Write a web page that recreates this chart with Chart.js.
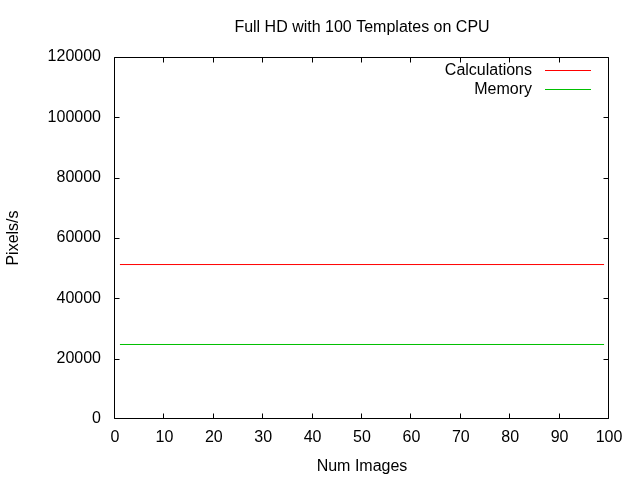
<!DOCTYPE html>
<html>
<head>
<meta charset="utf-8">
<script src="https://cdn.jsdelivr.net/npm/chart.js@4"></script>
<style>
html,body{margin:0;padding:0;background:#fff;}
canvas{display:block;}
</style>
</head>
<body>
<canvas id="c" width="640" height="480"></canvas>
<script>
const titleText = "Full HD with 100 Templates on CPU";
const xTitle = "Num Images";
const yTitle = "Pixels/s";
const seriesNames = ["Calculations", "Memory"];
const seriesColors = ["#ff0000", "#00c000"];
const numImages = [1, 99];
const calculations = [51200, 51200];
const memory = [24700, 24700];
const xTicks = [0, 10, 20, 30, 40, 50, 60, 70, 80, 90, 100];
const yTicks = [0, 20000, 40000, 60000, 80000, 100000, 120000];

const FONT = "Liberation Sans, Arial, sans-serif";
const FS = 16;

const gnuplotFrame = {
  id: 'gnuplotFrame',
  afterDraw(chart) {
    const ctx = chart.ctx;
    const a = chart.chartArea;
    const xs = chart.scales.x, ys = chart.scales.y;
    ctx.save();
    ctx.strokeStyle = '#000';
    ctx.lineWidth = 1;
    const L = Math.round(a.left) - 0.5, R = Math.round(a.right) - 0.5;
    const T = Math.round(a.top) + 0.5, B = Math.round(a.bottom) - 0.5;
    ctx.beginPath();
    ctx.rect(L, T, R - L, B - T);
    ctx.stroke();
    const tl = 5;
    ctx.beginPath();
    xTicks.forEach(v => {
      let px = Math.round(xs.getPixelForValue(v)) - 0.5;
      px = Math.min(Math.max(px, L), R);
      ctx.moveTo(px, B); ctx.lineTo(px, B - tl);
      ctx.moveTo(px, T); ctx.lineTo(px, T + tl);
    });
    yTicks.forEach(v => {
      let py = Math.round(ys.getPixelForValue(v)) + 0.5;
      py = Math.min(Math.max(py, T), B);
      ctx.moveTo(L, py); ctx.lineTo(L + tl, py);
      ctx.moveTo(R, py); ctx.lineTo(R - tl, py);
    });
    ctx.stroke();

    // titles
    ctx.fillStyle = '#000';
    ctx.font = FS + 'px ' + FONT;
    ctx.textAlign = 'center';
    ctx.textBaseline = 'middle';
    ctx.fillText(titleText, (a.left + a.right) / 2, 28);
    ctx.fillText(xTitle, (a.left + a.right) / 2, 467);
    ctx.save();
    ctx.translate(14, (a.top + a.bottom) / 2);
    ctx.rotate(-Math.PI / 2);
    ctx.fillText(yTitle, 0, 0);
    ctx.restore();

    // legend
    ctx.textAlign = 'right';
    chart.data.datasets.forEach((ds, i) => {
      const y = 70 + i * 19;
      ctx.fillStyle = '#000';
      ctx.fillText(ds.label, 532, y + 1);
      ctx.strokeStyle = ds.borderColor;
      ctx.beginPath();
      ctx.moveTo(545, y + 0.5);
      ctx.lineTo(591, y + 0.5);
      ctx.stroke();
    });
    ctx.restore();
  }
};

new Chart(document.getElementById('c'), {
  type: 'line',
  data: {
    datasets: [
      { label: seriesNames[0], data: numImages.map((x, i) => ({x, y: calculations[i]})),
        borderColor: seriesColors[0], borderWidth: 1, pointRadius: 0, fill: false, tension: 0 },
      { label: seriesNames[1], data: numImages.map((x, i) => ({x, y: memory[i]})),
        borderColor: seriesColors[1], borderWidth: 1, pointRadius: 0, fill: false, tension: 0 }
    ]
  },
  options: {
    responsive: false,
    animation: false,
    devicePixelRatio: 1,
    layout: { padding: { left: 0, right: 31, top: 57, bottom: 0 } },
    plugins: { legend: { display: false }, title: { display: false }, tooltip: { enabled: false } },
    scales: {
      x: {
        type: 'linear', min: 0, max: 100,
        afterBuildTicks: s => { s.ticks = xTicks.map(v => ({value: v})); },
        afterFit: s => { s.height = 61; },
        grid: { display: false, drawTicks: false },
        border: { display: false },
        ticks: { color: '#000', font: { family: FONT, size: FS }, padding: 9, maxRotation: 0, autoSkip: false }
      },
      y: {
        type: 'linear', min: 0, max: 120000,
        afterBuildTicks: s => { s.ticks = yTicks.map(v => ({value: v})); },
        afterFit: s => { s.width = 115; },
        grid: { display: false, drawTicks: false },
        border: { display: false },
        ticks: { color: '#000', font: { family: FONT, size: FS }, padding: 14, autoSkip: false,
                 callback: v => String(v) }
      }
    }
  },
  plugins: [gnuplotFrame]
});
</script>
</body>
</html>
